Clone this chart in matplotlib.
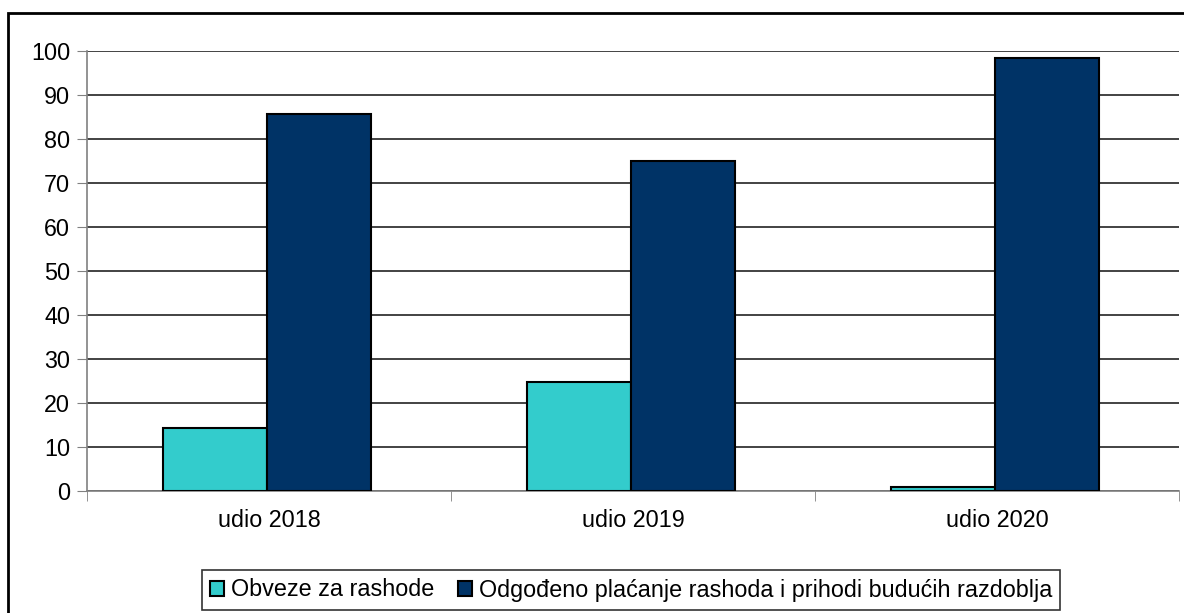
import matplotlib
matplotlib.use("Agg")
from matplotlib import pyplot as plt
from matplotlib.patches import Rectangle
import numpy as np

categories = ["udio 2018", "udio 2019", "udio 2020"]
obveze = [14.3, 24.8, 1.0]
odgodeno = [85.7, 75.1, 98.3]
series_names = ["Obveze za rashode",
                "Odgođeno plaćanje rashoda i prihodi budućih razdoblja"]
colors = ["#33CCCC", "#003366"]
yticks = list(range(0, 101, 10))

plt.rcParams['font.family'] = ['Liberation Sans', 'DejaVu Sans']
fs = 16.8

fig = plt.figure(figsize=(11.84, 6.13), dpi=100)
ax = fig.add_axes([87 / 1184, 1 - 491 / 613, 1092 / 1184, 440 / 613])

# outer frame (cut off at right/bottom like the original)
fig.patches.append(Rectangle((8 / 1184, -0.05), 1.2, 1 - 13 / 613 + 0.05,
                             transform=fig.transFigure, fill=False,
                             edgecolor="black", linewidth=2))

x = np.arange(len(categories))
w = 0.286
ax.bar(x - w / 2 - 0.005, obveze, w, color=colors[0], edgecolor="black",
       linewidth=1.5, label=series_names[0], zorder=3)
ax.bar(x + w / 2 - 0.005, odgodeno, w, color=colors[1], edgecolor="black",
       linewidth=1.5, label=series_names[1], zorder=3)

ax.set_xlim(-0.5, len(categories) - 0.5)
ax.set_ylim(0, 100)
ax.set_yticks(yticks)
ax.yaxis.grid(True, color="#222222", linewidth=1.2, zorder=0)
ax.tick_params(axis="y", labelsize=fs, length=7, color="#808080", pad=5)

ax.set_xticks(x)
ax.set_xticklabels(categories)
ax.set_xticks(np.arange(-0.5, len(categories)), minor=True)
ax.tick_params(axis="x", which="major", length=0, labelsize=fs, pad=13)
ax.tick_params(axis="x", which="minor", length=7, color="#808080")

for s in ["top", "right"]:
    ax.spines[s].set_visible(False)
for s in ["left", "bottom"]:
    ax.spines[s].set_color("#808080")
    ax.spines[s].set_linewidth(1.2)

leg = fig.legend(loc="center", bbox_to_anchor=(631 / 1184, 1 - 590 / 613),
                 ncol=2, fontsize=fs, frameon=True, fancybox=False,
                 handlelength=0.6, handleheight=0.6, handletextpad=0.3,
                 columnspacing=1.0, borderpad=0.35, borderaxespad=0)
leg.get_frame().set_edgecolor("black")
leg.get_frame().set_linewidth(1.2)

fig.savefig("out.png", dpi=100)
